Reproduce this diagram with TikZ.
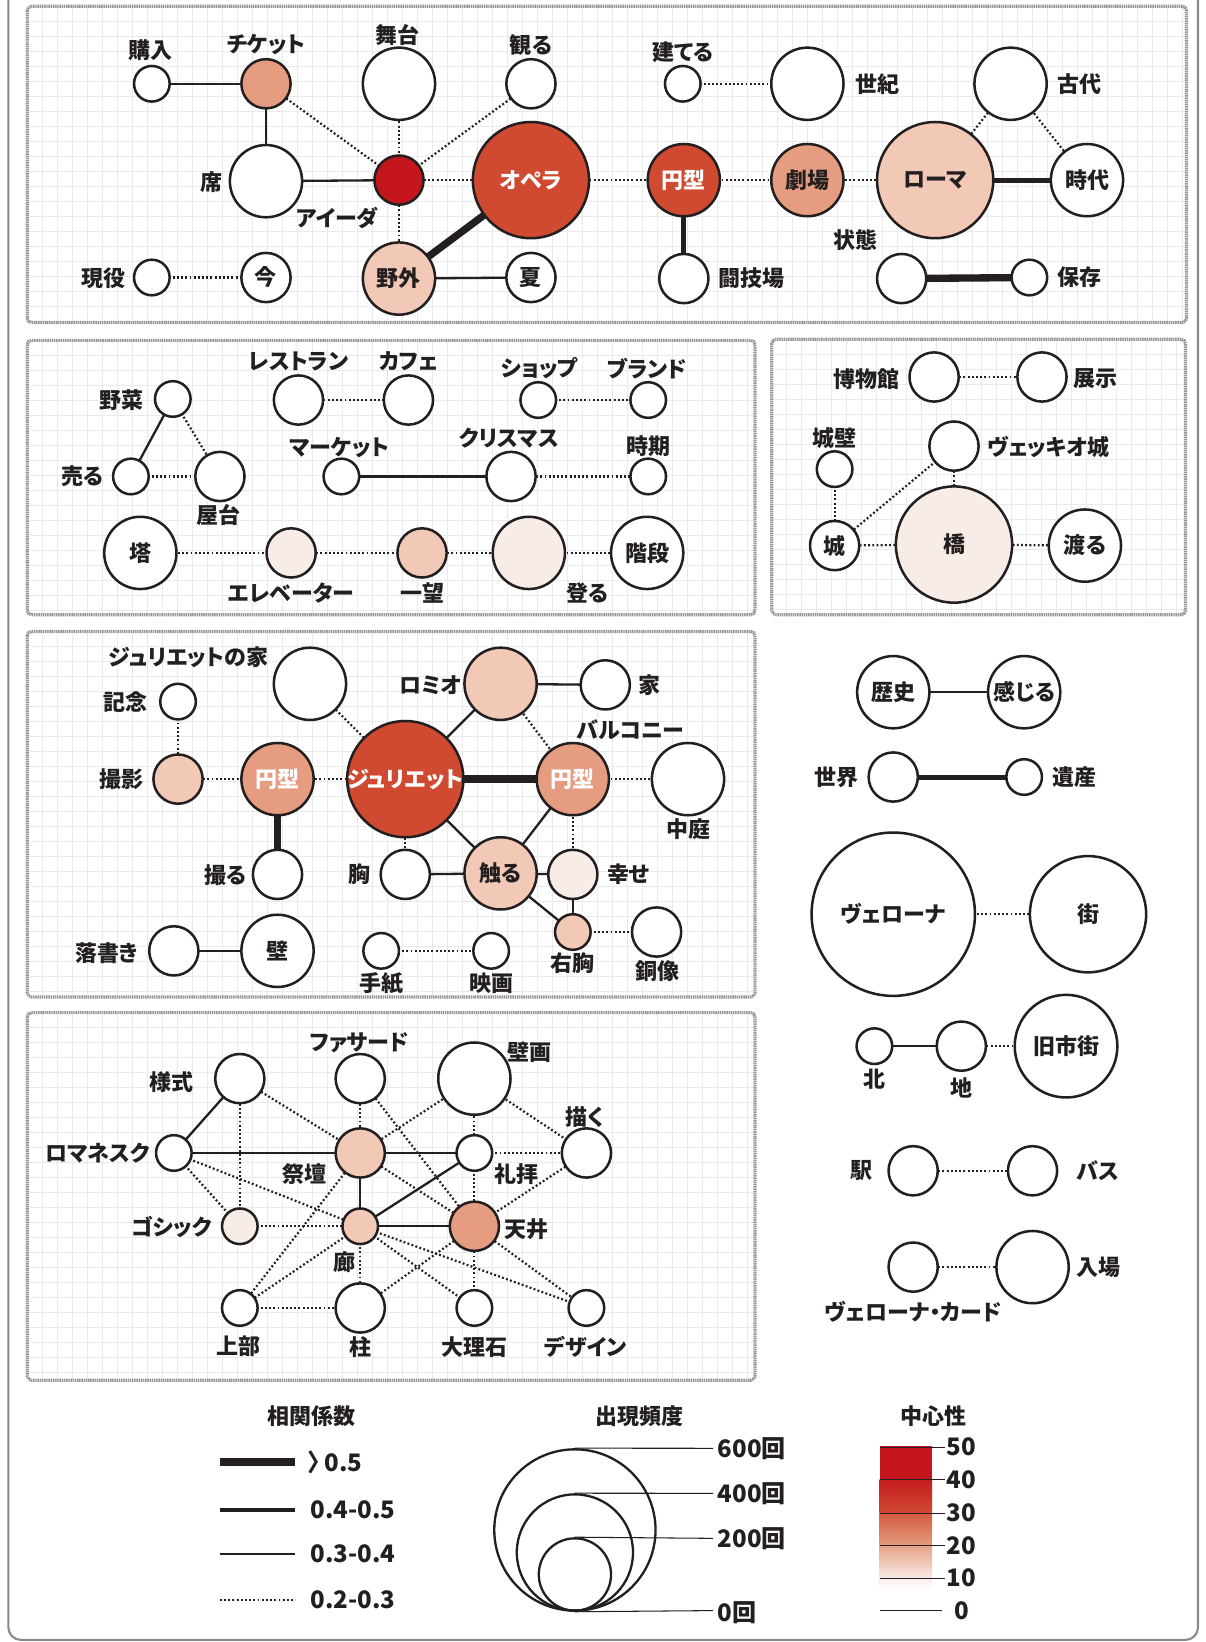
\documentclass[tikz,border=0pt]{standalone}
\usepackage{fontspec}
\usepackage{graphicx}
\setmainfont{Noto Sans CJK JP}[RawFeature=+palt]
\definecolor{ink}{HTML}{231F20}
\definecolor{cA}{HTML}{C4161C}
\definecolor{cB}{HTML}{CF4A31}
\definecolor{cC}{HTML}{E59C80}
\definecolor{cD}{HTML}{F2C8B6}
\definecolor{cE}{HTML}{F8ECE7}
\definecolor{gridc}{HTML}{EAEAEA}
\definecolor{framec}{HTML}{8A8A8A}
\definecolor{panelc}{HTML}{969696}
\pgfdeclarelayer{back}
\pgfdeclarelayer{edge}
\pgfsetlayers{back,edge,main}
\tikzset{
 bub/.style={circle, draw=ink, line width=1.2pt, fill=white, inner sep=0pt, minimum size=#1},
 b1/.style={bub=17pt}, b2/.style={bub=23.5pt}, b3/.style={bub=34.5pt},
 b4/.style={bub=55.5pt}, b5/.style={bub=78pt},
 lbl/.style={inner sep=0pt, text=ink, font=\fontsize{10.5}{12}\selectfont\bfseries},
 wlbl/.style={lbl, text=white},
 numl/.style={inner sep=0pt, text=ink, font=\fontsize{11.5}{13}\selectfont\bfseries},
 e2/.style={draw=ink, line width=1.05pt, dash pattern=on 0.9pt off 1.1pt},
 e3/.style={draw=ink, line width=1.1pt},
 e4/.style={draw=ink, line width=2.4pt},
 e5/.style={draw=ink, line width=3.5pt},
 gridline/.style={draw=gridc, line width=0.5pt},
 panelb/.style={draw=panelc, line width=1.5pt, dash pattern=on 0.7pt off 0.35pt, rounded corners=2pt},
 legline/.style={draw=ink, line width=0.5pt},
}
\newcommand\mkpanel[4]{%
 \begin{pgfonlayer}{back}
 \begin{scope}
 \clip (#1,#2) rectangle (#3,#4);
 \fill[white] (#1,#2) rectangle (#3,#4);
 \foreach \k in {1,...,78}{%
   \draw[gridline] ({#1+\k*14.33},#2) -- ({#1+\k*14.33},#4);
   \draw[gridline] (#1,{#2+\k*14.33}) -- (#3,{#2+\k*14.33});
 }
 \end{scope}
 \draw[panelb] (#1,#2) rectangle (#3,#4);
 \end{pgfonlayer}}
\begin{document}
\begin{tikzpicture}[x=0.5pt,y=-0.5pt]
\useasboundingbox (0,0) rectangle (1151,1568);
\begin{pgfonlayer}{back}
\fill[white] (0,0) rectangle (1151,1568);
\draw[framec, line width=1pt, rounded corners=6pt] (8,-40) rectangle (1144,1566);
\end{pgfonlayer}
\mkpanel{26}{6}{1133}{308}
\mkpanel{26}{325}{721}{587}
\mkpanel{737}{324}{1132}{587}
\mkpanel{26}{603}{721}{952}
\mkpanel{26}{967}{721}{1318}

% ---------- panel 1 ----------
\node[b1] (kounyu) at (145,80) {};
\node[lbl] (l-kounyu) at (144,48) {購入};
\node[b2, fill=cC] (ticket) at (254,80) {};
\node[lbl] (l-ticket) at (254,43) {チケット};
\node[b3] (butai) at (381,80) {};
\node[lbl] (l-butai) at (380,33) {舞台};
\node[b2] (miru) at (507,80) {};
\node[lbl] (l-miru) at (507,43) {観る};
\node[b3] (seki) at (254,173) {};
\node[lbl] (l-seki) at (202,174) {席};
\node[b2, fill=cA] (aida) at (381,172) {};
\node[lbl] (l-aida) at (322,208) {アイーダ};
\node[b4, fill=cB] (opera) at (507,172) {};
\node[wlbl] (l-opera) at (opera) {オペラ};
\node[b3, fill=cD] (yagai) at (381,266) {};
\node[lbl] (l-yagai) at (yagai) {野外};
\node[b2] (natsu) at (507,265) {};
\node[lbl] (l-natsu) at (natsu) {夏};
\node[b1] (geneki) at (145,265) {};
\node[lbl] (l-geneki) at (99,266) {現役};
\node[b2] (ima) at (254,265) {};
\node[lbl] (l-ima) at (ima) {今};
\node[b1] (tateru) at (652,80) {};
\node[lbl] (l-tateru) at (652,50) {建てる};
\node[b3] (seiki) at (771,80) {};
\node[lbl] (l-seiki) at (838,80) {世紀};
\node[b3] (kodai) at (965,80) {};
\node[lbl] (l-kodai) at (1031,80) {古代};
\node[b3, fill=cB] (enkei1) at (653,172) {};
\node[wlbl] (l-enkei1) at (enkei1) {円型};
\node[b3, fill=cC] (gekijo) at (771,172) {};
\node[lbl] (l-gekijo) at (gekijo) {劇場};
\node[b4, fill=cD] (roma) at (893,172) {};
\node[lbl] (l-roma) at (roma) {ローマ};
\node[b3] (jidai) at (1038,172) {};
\node[lbl] (l-jidai) at (jidai) {時代};
\node[b2] (tougi) at (653,266) {};
\node[lbl] (l-tougi) at (718,266) {闘技場};
\node[b2] (joutai) at (861,266) {};
\node[lbl] (l-joutai) at (817,229) {状態};
\node[b1] (hozon) at (983,265) {};
\node[lbl] (l-hozon) at (1031,265) {保存};

% ---------- panel 2 ----------
\node[b1] (yasai) at (165,381) {};
\node[lbl] (l-yasai) at (116,382) {野菜};
\node[b1] (uru) at (125,455) {};
\node[lbl] (l-uru) at (79,455) {売る};
\node[b2] (yatai) at (210,455) {};
\node[lbl] (l-yatai) at (209,492) {屋台};
\node[b2] (rest) at (285,382) {};
\node[lbl] (l-rest) at (285,345) {レストラン};
\node[b2] (cafe) at (390,382) {};
\node[lbl] (l-cafe) at (390,345) {カフェ};
\node[b1] (shop) at (514,382) {};
\node[lbl] (l-shop) at (515,352) {ショップ};
\node[b1] (brand) at (619,382) {};
\node[lbl] (l-brand) at (618,352) {ブランド};
\node[b1] (market) at (326,455) {};
\node[lbl] (l-market) at (324,427) {マーケット};
\node[b2] (xmas) at (488,455) {};
\node[lbl] (l-xmas) at (486,418) {クリスマス};
\node[b1] (jiki) at (619,455) {};
\node[lbl] (l-jiki) at (619,426) {時期};
\node[b3] (tou) at (134,528) {};
\node[lbl] (l-tou) at (tou) {塔};
\node[b2, fill=cE] (elev) at (278,528) {};
\node[lbl] (l-elev) at (278,566) {エレベーター};
\node[b2, fill=cD] (ichibo) at (403,528) {};
\node[lbl] (l-ichibo) at (403,566) {一望};
\node[b3, fill=cE] (noboru) at (505,528) {};
\node[lbl] (l-noboru) at (561,566) {登る};
\node[b3] (kaidan) at (618,528) {};
\node[lbl] (l-kaidan) at (kaidan) {階段};

% ---------- panel 3 ----------
\node[b2] (hakubutsu) at (892,360) {};
\node[lbl] (l-hakubutsu) at (827,362) {博物館};
\node[b2] (tenji) at (995,360) {};
\node[lbl] (l-tenji) at (1046,362) {展示};
\node[b1] (jouheki) at (797,448) {};
\node[lbl] (l-jouheki) at (797,418) {城壁};
\node[b2] (vecchio) at (911,426) {};
\node[lbl] (l-vecchio) at (1001,427) {ヴェッキオ城};
\node[b2] (shiro) at (797,521) {};
\node[lbl] (l-shiro) at (shiro) {城};
\node[b4, fill=cE] (hashi) at (911,520) {};
\node[lbl] (l-hashi) at (hashi) {橋};
\node[b3] (wataru) at (1036,521) {};
\node[lbl] (l-wataru) at (wataru) {渡る};

% ---------- panel 4 ----------
\node[b3] (jhouse) at (296,653) {};
\node[lbl] (l-jhouse) at (180,628) {ジュリエットの家};
\node[b1] (kinen) at (170,670) {};
\node[lbl] (l-kinen) at (120,670) {記念};
\node[b2, fill=cD] (satsuei) at (170,744) {};
\node[lbl] (l-satsuei) at (116,744) {撮影};
\node[b3, fill=cC] (enkeiL) at (265,744) {};
\node[wlbl] (l-enkeiL) at (enkeiL) {円型};
\node[b4, fill=cB] (juliet) at (387,744) {};
\node[wlbl] (l-juliet) at (juliet) {ジュリエット};
\node[b3, fill=cD] (romeo) at (478,653) {};
\node[lbl] (l-romeo) at (411,654) {ロミオ};
\node[b2] (ie) at (578,654) {};
\node[lbl] (l-ie) at (620,654) {家};
\node[b3, fill=cC] (enkeiR) at (547,744) {};
\node[wlbl] (l-enkeiR) at (enkeiR) {円型};
\node[lbl] (l-balcony) at (602,697) {バルコニー};
\node[b3] (nakaniwa) at (657,744) {};
\node[lbl] (l-nakaniwa) at (657,792) {中庭};
\node[b2] (toru) at (265,835) {};
\node[lbl] (l-toru) at (215,836) {撮る};
\node[b2] (mune) at (387,835) {};
\node[lbl] (l-mune) at (343,835) {胸};
\node[b3, fill=cD] (sawaru) at (478,834) {};
\node[lbl] (l-sawaru) at (sawaru) {触る};
\node[b2, fill=cE] (shiawase) at (547,835) {};
\node[lbl] (l-shiawase) at (600,835) {幸せ};
\node[b1, fill=cD] (migimune) at (547,890) {};
\node[lbl] (l-migimune) at (547,920) {右胸};
\node[b2] (douzou) at (627,890) {};
\node[lbl] (l-douzou) at (628,927) {銅像};
\node[b2] (rakugaki) at (166,908) {};
\node[lbl] (l-rakugaki) at (102,910) {落書き};
\node[b3] (kabe) at (265,908) {};
\node[lbl] (l-kabe) at (kabe) {壁};
\node[b1] (tegami) at (364,908) {};
\node[lbl] (l-tegami) at (364,939) {手紙};
\node[b1] (eiga) at (469,908) {};
\node[lbl] (l-eiga) at (469,939) {映画};

% ---------- right column ----------
\node[b3] (rekishi) at (853,661) {};
\node[lbl] (l-rekishi) at (rekishi) {歴史};
\node[b3] (kanjiru) at (978,661) {};
\node[lbl] (l-kanjiru) at (kanjiru) {感じる};
\node[b2] (sekai) at (853,742) {};
\node[lbl] (l-sekai) at (799,742) {世界};
\node[b1] (isan) at (978,742) {};
\node[lbl] (l-isan) at (1026,742) {遺産};
\node[b5] (verona) at (853,873) {};
\node[lbl] (l-verona) at (verona) {ヴェローナ};
\node[b4] (machi) at (1039,873) {};
\node[lbl] (l-machi) at (machi) {街};
\node[b1] (kita) at (835,999) {};
\node[lbl] (l-kita) at (835,1031) {北};
\node[b2] (chi) at (918,999) {};
\node[lbl] (l-chi) at (918,1039) {地};
\node[bub=49pt] (kyushi) at (1018,999) {};
\node[lbl] (l-kyushi) at (kyushi) {旧市街};
\node[b2] (eki) at (872,1118) {};
\node[lbl] (l-eki) at (823,1118) {駅};
\node[b2] (bus) at (986,1118) {};
\node[lbl] (l-bus) at (1048,1118) {バス};
\node[b2] (card) at (872,1210) {};
\node[lbl] (l-card) at (872,1253) {ヴェローナ・カード};
\node[b3] (nyujo) at (986,1210) {};
\node[lbl] (l-nyujo) at (1049,1210) {入場};

% ---------- panel 5 ----------
\node[b2] (youshiki) at (229,1030) {};
\node[lbl] (l-youshiki) at (164,1033) {様式};
\node[b2] (facade) at (344,1030) {};
\node[lbl] (l-facade) at (343,996) {ファサード};
\node[b3] (hekiga) at (453,1030) {};
\node[lbl] (l-hekiga) at (506,1005) {壁画};
\node[b2] (egaku) at (560,1101) {};
\node[lbl] (l-egaku) at (558,1067) {描く};
\node[b1] (roman) at (166,1101) {};
\node[lbl] (l-roman) at (93,1101) {ロマネスク};
\node[b2, fill=cD] (saidan) at (344,1101) {};
\node[lbl] (l-saidan) at (291,1121) {祭壇};
\node[b1] (reihai) at (453,1101) {};
\node[lbl] (l-reihai) at (493,1121) {礼拝};
\node[b1, fill=cE] (gothic) at (229,1171) {};
\node[lbl] (l-gothic) at (164,1172) {ゴシック};
\node[b1, fill=cD] (rou) at (344,1171) {};
\node[lbl] (l-rou) at (329,1205) {廊};
\node[b2, fill=cC] (tenjo) at (453,1171) {};
\node[lbl] (l-tenjo) at (503,1174) {天井};
\node[b1] (joubu) at (229,1249) {};
\node[lbl] (l-joubu) at (228,1286) {上部};
\node[b2] (hashira) at (344,1249) {};
\node[lbl] (l-hashira) at (344,1286) {柱};
\node[b1] (dairi) at (453,1249) {};
\node[lbl] (l-dairi) at (453,1286) {大理石};
\node[b1] (design) at (560,1249) {};
\node[lbl] (l-design) at (559,1286) {デザイン};

% ---------- edges ----------
\begin{pgfonlayer}{edge}
\foreach \a/\b in {kounyu/ticket, ticket/seki, seki/aida, yagai/natsu,
  yasai/uru, market/xmas,
  juliet/romeo, romeo/ie, juliet/sawaru, enkeiR/sawaru, mune/sawaru, sawaru/shiawase, sawaru/migimune, shiawase/migimune, rakugaki/kabe,
  rekishi/kanjiru, kita/chi,
  youshiki/roman, roman/saidan, saidan/reihai, saidan/rou, rou/reihai, rou/tenjo}
  \draw[e3] (\a.center) -- (\b.center);
\foreach \a/\b in {ticket/aida, butai/aida, miru/aida, aida/opera, aida/yagai, geneki/ima, opera/enkei1, enkei1/gekijo, gekijo/roma, tateru/seiki, roma/kodai, kodai/jidai,
  yasai/yatai, uru/yatai, rest/cafe, shop/brand, xmas/jiki, tou/elev, elev/ichibo, ichibo/noboru, noboru/kaidan,
  hakubutsu/tenji, jouheki/shiro, shiro/vecchio, vecchio/hashi, shiro/hashi, hashi/wataru,
  kinen/satsuei, satsuei/enkeiL, enkeiL/juliet, juliet/jhouse, romeo/enkeiR, enkeiR/nakaniwa, juliet/mune, enkeiR/shiawase, migimune/douzou, tegami/eiga,
  verona/machi, chi/kyushi, eki/bus, card/nyujo,
  youshiki/gothic, youshiki/saidan, facade/saidan, facade/tenjo, hekiga/saidan, hekiga/reihai, hekiga/egaku, reihai/egaku, egaku/tenjo, reihai/tenjo,
  roman/gothic, roman/rou, saidan/tenjo, saidan/joubu, gothic/rou, rou/joubu, joubu/hashira, rou/hashira, rou/dairi, rou/design, tenjo/hashira, tenjo/dairi, tenjo/design}
  \draw[e2] (\a.center) -- (\b.center);
\foreach \a/\b in {enkei1/tougi, roma/jidai, sekai/isan}
  \draw[e4] (\a.center) -- (\b.center);
\foreach \a/\b in {opera/yagai, joutai/hozon, juliet/enkeiR, enkeiL/toru}
  \draw[e5] (\a.center) -- (\b.center);
\end{pgfonlayer}

% ---------- legend: correlation ----------
\node[lbl] (t-corr) at (297,1352) {相関係数};
\coordinate (c5a) at (210,1396); \coordinate (c5b) at (282,1396);
\coordinate (c4a) at (210,1442); \coordinate (c4b) at (282,1442);
\coordinate (c3a) at (210,1484); \coordinate (c3b) at (282,1484);
\coordinate (c2a) at (210,1528); \coordinate (c2b) at (282,1528);
\draw[draw=ink, line width=4pt] (c5a) -- (c5b);
\draw[draw=ink, line width=1.7pt] (c4a) -- (c4b);
\draw[draw=ink, line width=1.1pt] (c3a) -- (c3b);
\draw[e2, line width=0.8pt] (c2a) -- (c2b);
\node[numl, anchor=west] (n5) at (294,1396) {〉\,0.5};
\node[numl, anchor=west] (n4) at (296,1442) {0.4-0.5};
\node[numl, anchor=west] (n3) at (296,1484) {0.3-0.4};
\node[numl, anchor=west] (n2) at (296,1528) {0.2-0.3};

% ---------- legend: frequency ----------
\node[lbl] (t-freq) at (611,1352) {出現頻度};
\node[circle, draw=ink, line width=1.1pt, inner sep=0pt, minimum size=77pt] (f600) at (549,1461) {};
\node[circle, draw=ink, line width=1.1pt, inner sep=0pt, minimum size=55.5pt] (f400) at (549,1482.5) {};
\node[circle, draw=ink, line width=1.1pt, inner sep=0pt, minimum size=34.5pt] (f200) at (549,1503.5) {};
\coordinate (g600) at (681,1383);
\coordinate (g400) at (681,1426);
\coordinate (g200) at (681,1469);
\coordinate (g0) at (681,1538);
\draw[legline] (f600.north) -- (g600);
\draw[legline] (f400.north) -- (g400);
\draw[legline] (f200.north) -- (g200);
\draw[legline] (f600.south) -- (g0);
\node[numl, anchor=west] (m600) at (685,1383) {600回};
\node[numl, anchor=west] (m400) at (685,1426) {400回};
\node[numl, anchor=west] (m200) at (685,1469) {200回};
\node[numl, anchor=west] (m0) at (685,1540) {0回};

% ---------- legend: centrality ----------
\node[lbl] (t-cent) at (891,1352) {中心性};
\fill[cA] (840,1381) rectangle (890,1413.5);
\shade[top color=cA!85!cB, bottom color=cB] (840,1413) rectangle (890,1445.5);
\shade[top color=cB!80!cC, bottom color=cC] (840,1445) rectangle (890,1476.5);
\shade[top color=cC!85!cD, bottom color=cE] (840,1476) rectangle (890,1507.5);
\shade[top color=cE!80!white, bottom color=white] (840,1507) rectangle (890,1520);
\foreach \y/\v in {1382/50, 1413/40, 1445/30, 1476/20, 1507/10}{
  \coordinate (k\v a) at (840,\y);
  \coordinate (k\v b) at (902,\y);
  \draw[legline] (k\v a) -- (k\v b);
  \node[numl] (v\v) at (918,\y) {\v};
}
\coordinate (k0a) at (840,1538);
\coordinate (k0b) at (900,1538);
\draw[legline] (k0a) -- (k0b);
\node[numl] (v0) at (918,1538) {0};
\end{tikzpicture}
\end{document}
